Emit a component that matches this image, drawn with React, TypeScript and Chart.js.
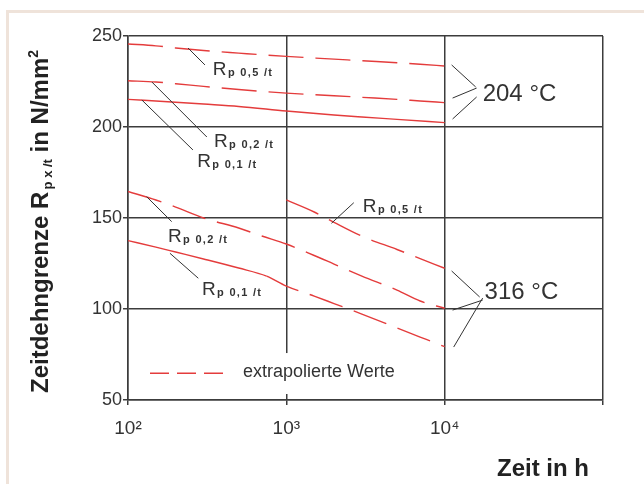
import React, { useEffect, useRef } from 'react';
import { Chart, registerables } from 'chart.js';

Chart.register(...registerables);

const FONT = "'Liberation Sans', Arial, Helvetica, sans-serif";
const RED = '#e43c3c';
const INK = '#333333';
const GRID = '#3c3c3c';
const DASH = [35, 12];

// axis ticks
const xTickValues = [100, 1000, 10000, 100000];
const xTickLabels = ['10²', '10³', '10⁴', ''];
const yTickValues = [50, 100, 150, 200, 250];

// 204 °C  (hours / N/mm²)
const h204_p01 = [100, 200, 300, 500, 1000, 2000, 3000, 5000, 10000];
const r204_p01 = [215.2, 213.6, 212.6, 211.3, 208.8, 206.6, 205.5, 204.2, 202.4];
const h204_p02 = [100, 150, 200, 300, 500, 1000, 2000, 3000, 5000, 7000, 10000];
const r204_p02 = [225.4, 224.7, 223.8, 222.3, 220.6, 218.6, 217.2, 216.3, 215.2, 214.3, 213.4];
const h204_p05 = [100, 150, 200, 300, 500, 1000, 2000, 3000, 5000, 7000, 10000];
const r204_p05 = [245.6, 244.6, 243.4, 242.0, 240.6, 238.8, 237.3, 236.4, 235.3, 234.5, 233.5];

// 316 °C
const h316_p01 = [100, 150, 200, 300, 500, 750, 1000, 1500, 2000, 3000, 5000, 7000, 10000];
const r316_p01 = [137.6, 134.0, 131.3, 127.5, 122.5, 118.1, 112.6, 107.1, 103.0, 97.2, 89.6, 84.6, 79.3];
const h316_p02 = [100, 150, 200, 300, 500, 700, 1000, 1500, 2000, 3000, 5000, 7000, 10000];
const r316_p02 = [164.6, 159.9, 156.0, 150.0, 144.5, 140.1, 135.7, 129.4, 124.7, 118.1, 110.4, 104.4, 100.4];
const h316_p05 = [1000, 1500, 2000, 3000, 5000, 7000, 10000];
const r316_p05 = [159.9, 153.3, 147.6, 140.0, 132.7, 127.7, 122.4];

// index of the last measured (solid) point; later segments are extrapolated (dashed)
const solid204_p01 = 99;
const solid204_p02 = -1;
const solid204_p05 = -1;
const solid316_p01 = 5;
const solid316_p02 = -1;
const solid316_p05 = -1;

type Run = { text: string; size: number; bold?: boolean; dy?: number; ls?: number };

function drawRuns(ctx: CanvasRenderingContext2D, x0: number, y0: number, runs: Run[]) {
  let x = x0;
  for (const r of runs) {
    ctx.font = `${r.bold ? 'bold ' : ''}${r.size}px ${FONT}`;
    (ctx as any).letterSpacing = `${r.ls ?? 0}px`;
    ctx.fillText(r.text, x, y0 + (r.dy ?? 0));
    x += ctx.measureText(r.text).width;
  }
  (ctx as any).letterSpacing = '0px';
}

function series(xs: number[], ys: number[]) {
  return xs.map((x, i) => ({ x, y: ys[i] }));
}

function curve(xs: number[], ys: number[], solidUntil: number) {
  return {
    data: series(xs, ys),
    borderColor: RED,
    borderWidth: 1.4,
    pointRadius: 0,
    fill: false,
    cubicInterpolationMode: 'monotone' as const,
    borderDash: [] as number[],
    segment: {
      borderDash: (c: any) => (c.p0DataIndex >= solidUntil ? DASH : undefined),
    },
  };
}

// annotation layout, in data coordinates (log10 hours, N/mm²)
const leaders = [
  [2.379, 243.4, 2.486, 234.1],
  [2.151, 224.7, 2.498, 194.5],
  [2.088, 214.8, 2.41, 187.4],
  [3.285, 147.1, 3.426, 158.4],
  [2.118, 161.7, 2.276, 148.0],
  [2.265, 130.6, 2.444, 116.9],
  // brackets 204 °C
  [4.044, 234.1, 4.196, 222.0],
  [4.05, 215.9, 4.202, 221.4],
  [4.05, 204.4, 4.202, 216.5],
  // brackets 316 °C
  [4.044, 120.9, 4.221, 106.6],
  [4.05, 99.4, 4.24, 104.9],
  [4.057, 79.1, 4.24, 106.0],
];
const rLabels: [number, number, string][] = [
  [2.536, 228.8, 'p 0,5 /t'],
  [2.543, 189.0, 'p 0,2 /t'],
  [2.437, 178.0, 'p 0,1 /t'],
  [3.483, 153.3, 'p 0,5 /t'],
  [2.252, 136.8, 'p 0,2 /t'],
  [2.467, 107.7, 'p 0,1 /t'],
];
const tempLabels: [number, number, string][] = [
  [4.24, 214.3, '204 °C'],
  [4.252, 105.5, '316 °C'],
];
const legendText = 'extrapolierte Werte';

const framePlugin = {
  id: 'frame',
  beforeDraw(chart: any) {
    const { ctx, width, height } = chart;
    ctx.save();
    ctx.fillStyle = '#ffffff';
    ctx.fillRect(0, 0, width, height);
    ctx.fillStyle = '#efe3da';
    ctx.fillRect(6, 10, 3, height - 10);
    ctx.fillRect(6, 10, width - 6, 3);
    ctx.restore();
  },
};

const annotPlugin = {
  id: 'annot',
  afterDatasetsDraw(chart: any) {
    const { ctx } = chart;
    const xs = chart.scales.x;
    const ys = chart.scales.y;
    const X = (lg: number) => xs.getPixelForValue(Math.pow(10, lg));
    const Y = (v: number) => ys.getPixelForValue(v);
    ctx.save();

    // legend box (masks grid)
    ctx.fillStyle = '#ffffff';
    ctx.fillRect(X(2.057), Y(75.8), X(3.811) - X(2.057), Y(53.3) - Y(75.8));
    ctx.strokeStyle = RED;
    ctx.lineWidth = 1.4;
    ctx.setLineDash([19, 8]);
    ctx.beginPath();
    ctx.moveTo(X(2.139), Y(64.7));
    ctx.lineTo(X(2.644), Y(64.7));
    ctx.stroke();
    ctx.setLineDash([]);
    ctx.fillStyle = INK;
    ctx.textBaseline = 'alphabetic';
    ctx.textAlign = 'left';
    drawRuns(ctx, X(2.726), Y(62.6), [{ text: legendText, size: 18 }]);

    // leader lines
    ctx.strokeStyle = INK;
    ctx.lineWidth = 1;
    for (const [a, b, c, d] of leaders) {
      ctx.beginPath();
      ctx.moveTo(X(a), Y(b));
      ctx.lineTo(X(c), Y(d));
      ctx.stroke();
    }

    // R labels
    ctx.fillStyle = INK;
    for (const [a, b, sub] of rLabels) {
      drawRuns(ctx, X(a), Y(b), [
        { text: 'R', size: 19 },
        { text: ' ', size: 5 },
        { text: sub, size: 11, bold: true, dy: 1, ls: 1.3 },
      ]);
    }
    for (const [a, b, t] of tempLabels) {
      drawRuns(ctx, X(a), Y(b), [{ text: t, size: 24 }]);
    }

    // axis titles
    const ca = chart.chartArea;
    ctx.fillStyle = '#222222';
    ctx.save();
    ctx.translate(ca.left - 80, ca.bottom - 7);
    ctx.rotate(-Math.PI / 2);
    drawRuns(ctx, 0, 0, [
      { text: 'Zeitdehngrenze R', size: 24, bold: true },
      { text: ' ', size: 8 },
      { text: 'p x /t', size: 13, bold: true, dy: 4 },
      { text: ' in N/mm', size: 24, bold: true },
      { text: '2', size: 14, bold: true, dy: -10 },
    ]);
    ctx.restore();
    drawRuns(ctx, ca.right - 106, ca.bottom + 76, [{ text: 'Zeit in h', size: 24, bold: true }]);

    ctx.restore();
  },
};

export default function App() {
  const ref = useRef<HTMLCanvasElement | null>(null);
  useEffect(() => {
    if (!ref.current) return;
    const chart = new Chart(ref.current, {
      type: 'line',
      data: {
        datasets: [
          curve(h204_p05, r204_p05, solid204_p05),
          curve(h204_p02, r204_p02, solid204_p02),
          curve(h204_p01, r204_p01, solid204_p01),
          curve(h316_p05, r316_p05, solid316_p05),
          curve(h316_p02, r316_p02, solid316_p02),
          curve(h316_p01, r316_p01, solid316_p01),
        ] as any,
      },
      options: {
        animation: false,
        responsive: false,
        layout: { padding: { top: 36, right: 41, left: 0, bottom: 0 } },
        plugins: { legend: { display: false }, tooltip: { enabled: false } },
        scales: {
          x: {
            type: 'logarithmic',
            min: 100,
            max: 100000,
            afterBuildTicks: (s: any) => {
              s.ticks = xTickValues.map((v) => ({ value: v }));
            },
            afterFit: (s: any) => {
              s.height = 84;
            },
            ticks: {
              autoSkip: false,
              maxRotation: 0,
              padding: 12,
              color: INK,
              font: { size: 19, family: FONT },
              callback: (v: any) => {
                const i = xTickValues.indexOf(Number(v));
                return i >= 0 ? xTickLabels[i] : '';
              },
            },
            grid: { color: GRID, lineWidth: 1.5, tickLength: 5, drawTicks: true },
            border: { color: GRID, width: 1.5 },
          },
          y: {
            type: 'linear',
            min: 50,
            max: 250,
            afterBuildTicks: (s: any) => {
              s.ticks = yTickValues.map((v) => ({ value: v }));
            },
            afterFit: (s: any) => {
              s.width = 128;
            },
            ticks: {
              padding: 1,
              color: INK,
              font: { size: 18, family: FONT },
            },
            grid: { color: GRID, lineWidth: 1.5, tickLength: 5, drawTicks: true },
            border: { color: GRID, width: 1.5 },
          },
        },
      } as any,
      plugins: [framePlugin, annotPlugin],
    });
    return () => chart.destroy();
  }, []);
  return (
    <div style={{ position: 'fixed', left: 0, top: 0, width: 644, height: 484, background: '#fff' }}>
      <canvas ref={ref} width={644} height={484} style={{ display: 'block' }} />
    </div>
  );
}
